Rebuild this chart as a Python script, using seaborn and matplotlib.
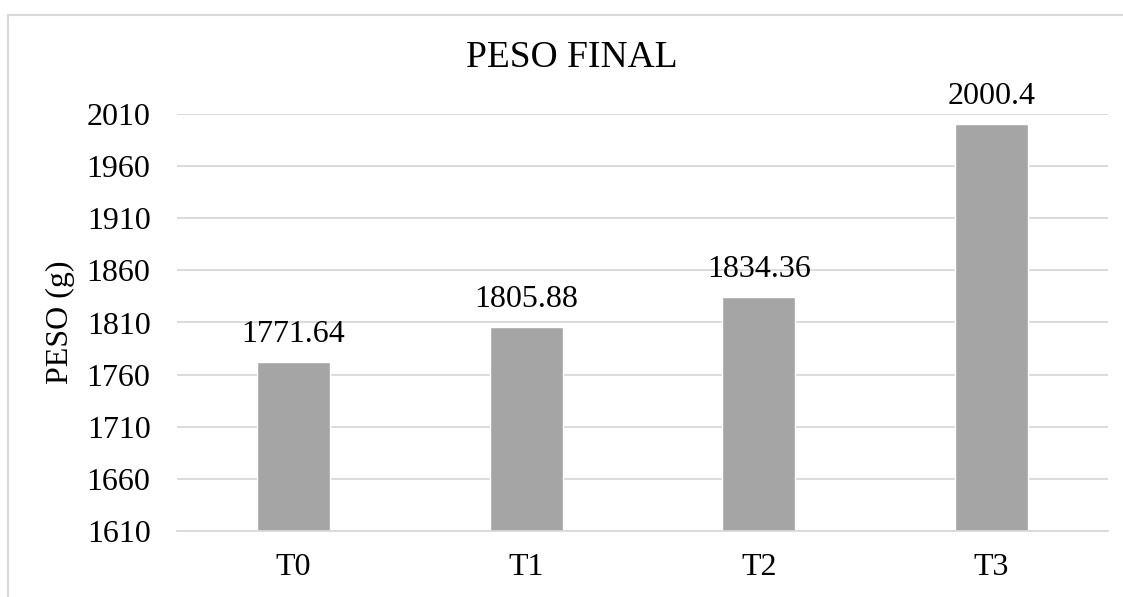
import matplotlib
matplotlib.use("Agg")
import matplotlib.pyplot as plt
from matplotlib.lines import Line2D
import seaborn as sns
import pandas as pd

# Final weight per treatment
treatments = ["T0", "T1", "T2", "T3"]
peso = [1771.64, 1805.88, 1834.36, 2000.4]
peso_labels = ["1771.64", "1805.88", "1834.36", "2000.4"]
y_ticks = [1610, 1660, 1710, 1760, 1810, 1860, 1910, 1960, 2010]

df = pd.DataFrame({"tratamiento": treatments, "peso": peso})

sns.set_theme(style="white")
plt.rcParams["font.family"] = ["Liberation Serif", "DejaVu Serif"]

GRID = "#D9D9D9"
BAR = "#A5A5A5"

fig = plt.figure(figsize=(11.23, 5.97), dpi=100)
fig.patch.set_facecolor("white")
ax = fig.add_axes([177 / 1123, 1 - 531 / 597, (1108 - 177) / 1123, (531 - 114) / 597])

sns.barplot(data=df, x="tratamiento", y="peso", color=BAR, width=0.314,
            saturation=1, ax=ax, zorder=3)

ax.set_ylim(y_ticks[0], y_ticks[-1])
ax.set_xlim(-0.5, len(treatments) - 0.5)
ax.set_yticks(y_ticks)
ax.set_yticklabels([str(t) for t in y_ticks], fontsize=23, color="black")
ax.tick_params(axis="y", length=0, pad=19)
ax.tick_params(axis="x", length=0, pad=16, labelsize=23, labelcolor="black")

# category boundary tick marks below the axis
ax.set_xticks([i - 0.5 for i in range(len(treatments) + 1)], minor=True)
ax.tick_params(axis="x", which="minor", length=7.2, width=1.2, color=GRID, direction="out")

ax.grid(axis="y", color=GRID, linewidth=1.3, zorder=0)
ax.set_axisbelow(True)
for s in ["left", "right", "top"]:
    ax.spines[s].set_visible(False)
ax.spines["bottom"].set_color(GRID)
ax.spines["bottom"].set_linewidth(1.3)
ax.spines["bottom"].set_zorder(4)

ax.set_xlabel("")
ax.set_ylabel("PESO (g)", fontsize=23, color="black")
ax.yaxis.set_label_coords(-(177 - 75) / 931, 0.5)

for i, (v, lab) in enumerate(zip(peso, peso_labels)):
    ax.annotate(lab, xy=(i, v), xytext=(0, 14.4), textcoords="offset points",
                ha="center", va="baseline", fontsize=23, color="black", zorder=5)

fig.text(572 / 1123, 1 - 58 / 597, "PESO FINAL", ha="center", va="center",
         fontsize=27, color="black")

# chart area outline
fig.add_artist(Line2D([8 / 1123, 8 / 1123], [0, 1 - 15 / 597],
                      transform=fig.transFigure, color=GRID, linewidth=1.5))
fig.add_artist(Line2D([8 / 1123, 1], [1 - 15 / 597, 1 - 15 / 597],
                      transform=fig.transFigure, color=GRID, linewidth=1.5))

fig.savefig("out.png", dpi=100, facecolor="white")
